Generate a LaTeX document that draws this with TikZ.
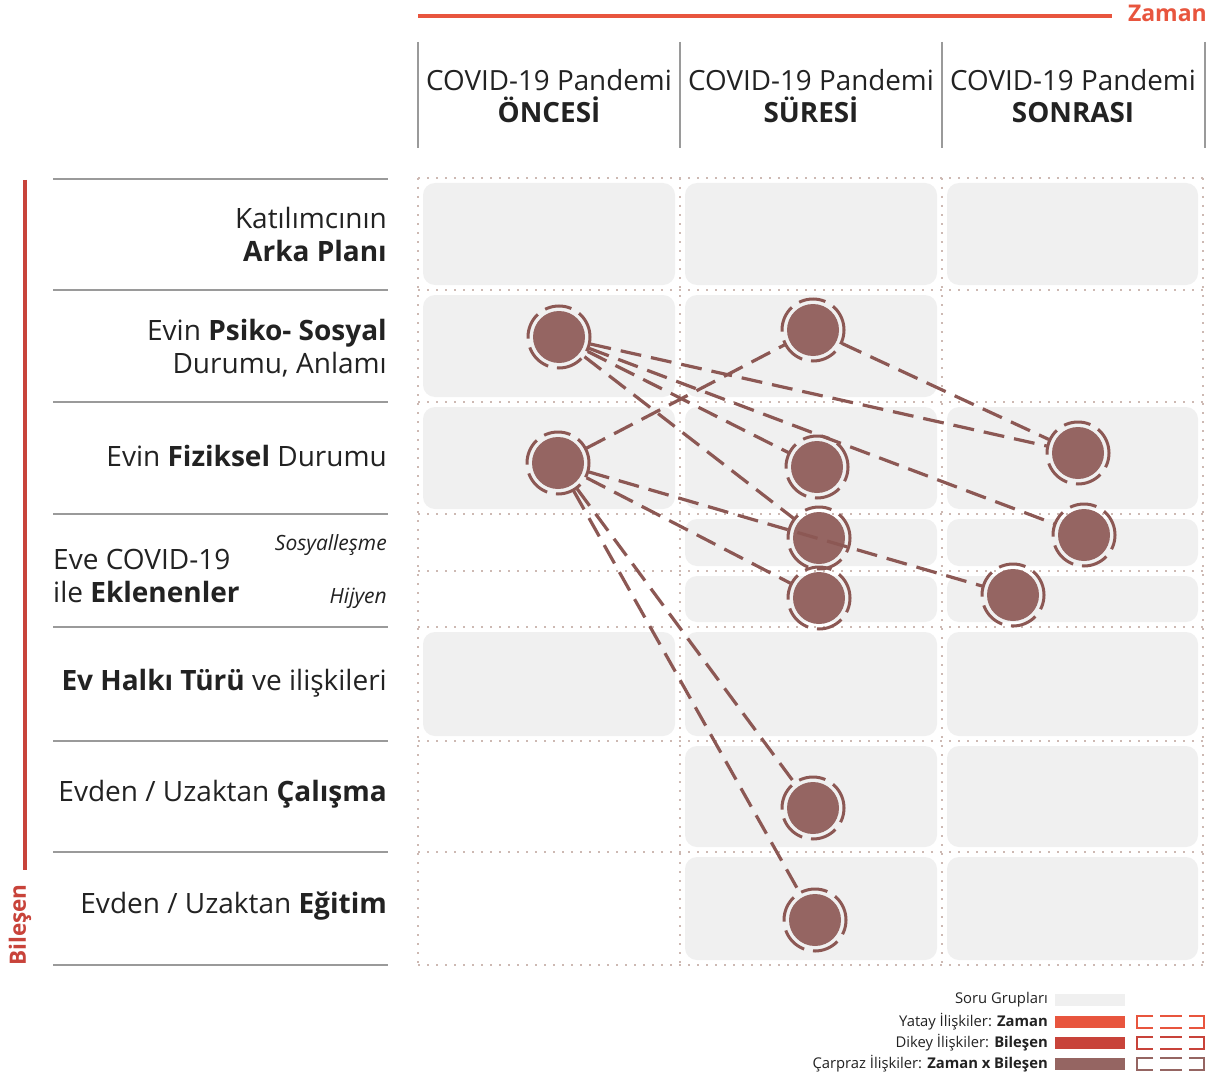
\documentclass[tikz,border=0pt]{standalone}
\usepackage{fontspec}
\setmainfont{Open Sans}
\definecolor{zaman}{HTML}{E8553E}
\definecolor{bilesen}{HTML}{C8433A}
\definecolor{capraz}{HTML}{956562}
\definecolor{edgec}{HTML}{8C5854}
\definecolor{cellg}{HTML}{F0F0F0}
\definecolor{rulec}{HTML}{9A9A9A}
\definecolor{dotc}{HTML}{CDB9B3}
\definecolor{txt}{HTML}{222222}
\tikzset{
  cellbox/.style={fill=cellg, rounded corners=12pt},
  gridline/.style={dotc, line width=1.8pt, dash pattern=on 1.6pt off 7.4pt},
  sepline/.style={rulec, line width=1.2pt},
  hdr/.style={font=\fontsize{27.8}{32}\selectfont, text=txt, align=center, inner sep=0pt},
  lbl/.style={font=\fontsize{28}{33}\selectfont, text=txt, align=right, anchor=east, inner sep=0pt},
  sublbl/.style={font=\fontsize{21}{25}\selectfont\itshape, text=txt, anchor=east, inner sep=0pt},
  hub/.style={circle, minimum size=64pt, inner sep=0pt},
  ring/.style={edgec, line width=3pt, dash pattern=on 27pt off 9pt},
  link/.style={edgec, line width=3.2pt, dash pattern=on 21pt off 10pt},
  legtxt/.style={font=\fontsize{14.8}{17}\selectfont, text=txt, anchor=east, inner sep=0pt},
}
\begin{document}
\begin{tikzpicture}[x=1pt,y=-1pt]
\useasboundingbox[fill=white] (0,0) rectangle (1220,1078);

% --- gray cells ---
\foreach \xa/\xb/\ya/\yb in {
  418/680/178/290, 680/942/178/290, 942/1203/178/290,
  418/680/290/402, 680/942/290/402,
  418/680/402/514, 680/942/402/514, 942/1203/402/514,
  680/942/514/571, 942/1203/514/571,
  680/942/571/627, 942/1203/571/627,
  418/680/627/741, 680/942/627/741, 942/1203/627/741,
  680/942/741/852, 942/1203/741/852,
  680/942/852/965, 942/1203/852/965}
  \fill[cellbox] (\xa+5,\ya+5) rectangle (\xb-5,\yb-5);

% --- dotted grid ---
\foreach \y in {178,290,402,514,571,627,741,852,965}
  \draw[gridline] (418,\y) -- (1205,\y);
\foreach \x in {418,680,942,1203}
  \draw[gridline] (\x,178) -- (\x,965);

% --- top axis: Zaman ---
\draw[zaman, line width=4pt] (418,16) -- (1112,16);
\node[font=\fontsize{23}{26}\selectfont\bfseries, text=zaman, anchor=east, inner sep=0pt] (zaman) at (1207,13) {Zaman};

% --- left axis: Bileşen ---
\draw[bilesen, line width=4pt] (25,180) -- (25,870);
\node[font=\fontsize{22.5}{26}\selectfont\bfseries, text=bilesen, rotate=90, inner sep=0pt] (bilesen) at (20,925) {Bileşen};

% --- column header ---
\foreach \x in {418,680,942,1205}
  \draw[sepline] (\x,42) -- (\x,148);
\node[hdr] (h1) at (549,96) {COVID-19 Pandemi\\\textbf{ÖNCESİ}};
\node[hdr] (h2) at (811,96) {COVID-19 Pandemi\\\textbf{SÜRESİ}};
\node[hdr] (h3) at (1073,96) {COVID-19 Pandemi\\\textbf{SONRASI}};

% --- row separators ---
\foreach \y in {179,290,402,514,627,741,852,965}
  \draw[sepline] (53,\y) -- (388,\y);

% --- row labels ---
\node[lbl] (r1) at (387,234) {Katılımcının\\\textbf{Arka Planı}};
\node[lbl] (r2) at (387,348) {Evin \textbf{Psiko- Sosyal}\\Durumu, Anlamı};
\node[lbl] (r3) at (387,456) {Evin \textbf{Fiziksel} Durumu};
\node[lbl, align=left, anchor=west] (r4) at (53,576) {Eve COVID-19\\ile \textbf{Eklenenler}};
\node[sublbl] (r4a) at (387,545) {Sosyalleşme};
\node[sublbl] (r4b) at (387,598) {Hijyen};
\node[lbl] (r5) at (387,683) {\textbf{Ev Halkı Türü} ve ilişkileri};
\node[lbl] (r6) at (387,794) {Evden / Uzaktan \textbf{Çalışma}};
\node[lbl] (r7) at (387,906) {Evden / Uzaktan \textbf{Eğitim}};

% --- hubs ---
\node[hub] (A1) at (559,337) {};
\node[hub] (A2) at (558,463) {};
\node[hub] (B1) at (813,330) {};
\node[hub] (B2) at (817,467) {};
\node[hub] (B3) at (819,538) {};
\node[hub] (B4) at (819,598) {};
\node[hub] (B5) at (813,808) {};
\node[hub] (B6) at (815,920) {};
\node[hub] (C1) at (1078,453) {};
\node[hub] (C2) at (1084,535) {};
\node[hub] (C3) at (1013,595) {};
\foreach \n in {A1,A2,B1,B2,B3,B4,B5,B6,C1,C2,C3} {
  \fill[capraz] (\n) circle (26pt);
  \draw[ring] ([shift={(31pt,0pt)}]\n.center) arc[start angle=0, end angle=360, radius=31pt];
}

% --- links ---
\draw[link] (A1) -- (C1);
\draw[link] (A1) -- (C2);
\draw[link] (A1) -- (B2);
\draw[link] (A1) -- (B3);
\draw[link] (B1) -- (C1);
\draw[link] (A2) -- (B1);
\draw[link] (A2) -- (C3);
\draw[link] (A2) -- (B4);
\draw[link] (A2) -- (B5);
\draw[link] (A2) -- (B6);

% --- legend ---
\node[legtxt] (l1) at (1048,1000) {Soru Grupları};
\node[legtxt] (l2) at (1048,1022) {Yatay İlişkiler: \textbf{Zaman}};
\node[legtxt] (l3) at (1048,1043) {Dikey İlişkiler: \textbf{Bileşen}};
\node[legtxt] (l4) at (1048,1064) {Çarpraz İlişkiler: \textbf{Zaman x Bileşen}};
\fill[cellg] (1055,994) rectangle (1125,1006);
\foreach \y/\c in {1022/zaman,1043/bilesen,1064/capraz} {
  \fill[\c] (1055,\y-6) rectangle (1125,\y+6);
  \draw[\c, line width=1.8pt] (1153,\y-6) -- (1137,\y-6) -- (1137,\y+6) -- (1153,\y+6);
  \draw[\c, line width=1.8pt] (1160,\y-6) -- (1182,\y-6) (1160,\y+6) -- (1182,\y+6);
  \draw[\c, line width=1.8pt] (1189,\y-6) -- (1204,\y-6) -- (1204,\y+6) -- (1189,\y+6);
}
\end{tikzpicture}
\end{document}
